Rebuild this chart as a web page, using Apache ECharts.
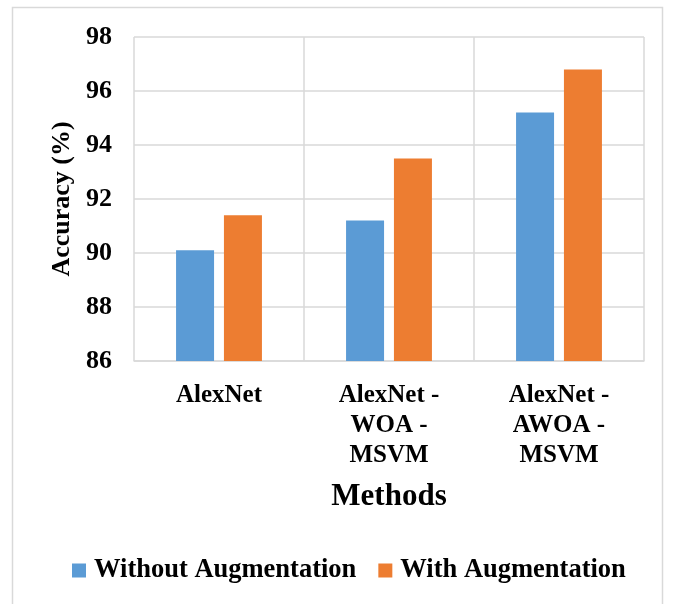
<!DOCTYPE html>
<html><head><meta charset="utf-8">
<script src="https://cdn.jsdelivr.net/npm/echarts@6/dist/echarts.min.js"></script>
<style>html,body{margin:0;padding:0;background:#fff}#c{width:675px;height:604px}</style>
</head><body><div id="c"></div>
<script>
const categories = ['AlexNet', 'AlexNet -\nWOA -\nMSVM', 'AlexNet -\nAWOA -\nMSVM'];
const withoutAug = [90.1, 91.2, 95.2];
const withAug = [91.4, 93.5, 96.8];
const seriesNames = ['Without Augmentation', 'With Augmentation'];
const yTicks = [86, 88, 90, 92, 94, 96, 98];

const font = '"Liberation Serif", "Times New Roman", serif';
const chart = echarts.init(document.getElementById('c'));
chart.setOption({
  animation: false,
  textStyle: {fontFamily: font},
  graphic: [{type: 'rect', shape: {x: 12.5, y: 7.5, width: 650, height: 620},
    style: {fill: 'none', stroke: '#d9d9d9', lineWidth: 1.5}, silent: true}],
  grid: {left: 134, right: 31, top: 37, bottom: 243},
  legend: {
    data: seriesNames, left: 67, top: 552, itemWidth: 14, itemHeight: 14, itemGap: 22,
    icon: 'rect',
    textStyle: {fontFamily: font, fontWeight: 'bold', fontSize: 26.5, color: '#000', padding: [0, 0, 0, 3]}
  },
  xAxis: {
    type: 'category', data: categories,
    name: 'Methods', nameLocation: 'middle', nameGap: 120,
    nameTextStyle: {fontFamily: font, fontWeight: 'bold', fontSize: 31, color: '#000'},
    axisLine: {lineStyle: {color: '#d9d9d9', width: 1.5}},
    axisTick: {show: false},
    splitLine: {show: true, lineStyle: {color: '#d9d9d9', width: 1.5}},
    axisLabel: {fontFamily: font, fontWeight: 'bold', fontSize: 25, color: '#000', lineHeight: 30, margin: 20, interval: 0}
  },
  yAxis: {
    type: 'value', min: yTicks[0], max: yTicks[yTicks.length - 1], interval: 2,
    name: 'Accuracy (%)', nameLocation: 'middle', nameGap: 57,
    nameTextStyle: {fontFamily: font, fontWeight: 'bold', fontSize: 26, color: '#000'},
    axisLine: {show: false}, axisTick: {show: false},
    splitLine: {lineStyle: {color: '#d9d9d9', width: 1.5}},
    axisLabel: {fontFamily: font, fontWeight: 'bold', fontSize: 26, color: '#000', margin: 22}
  },
  series: [
    {name: seriesNames[0], type: 'bar', data: withoutAug, itemStyle: {color: '#5B9BD5'},
     barWidth: 38, barGap: '26%'},
    {name: seriesNames[1], type: 'bar', data: withAug, itemStyle: {color: '#ED7D31'},
     barWidth: 38, barGap: '26%'}
  ]
});
</script></body></html>
